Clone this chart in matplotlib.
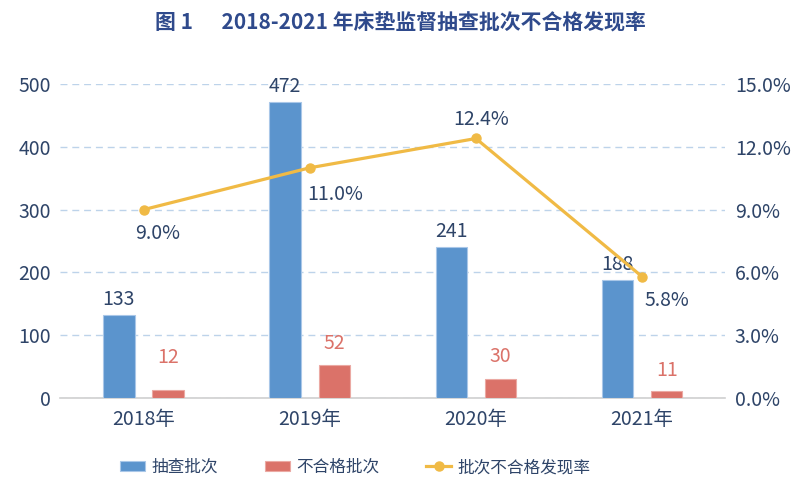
import matplotlib
matplotlib.use("Agg")
import matplotlib.pyplot as plt
import numpy as np
from matplotlib.ticker import FuncFormatter

plt.rcParams['font.family'] = ['Noto Sans CJK SC', 'DejaVu Sans']

years = ["2018年", "2019年", "2020年", "2021年"]
sampled = [133, 472, 241, 188]
failed = [12, 52, 30, 11]
rate = [9.0, 11.0, 12.4, 5.8]

blue = "#5B94CD"
red = "#DB7269"
gold = "#F0BA45"
navy = "#2E4468"
title_c = "#2F4A8C"
fs = 14

fig = plt.figure(figsize=(8, 4.86), dpi=100)
ax = fig.add_axes([0.0755, 0.181, 0.831, 0.646])
x = np.arange(len(years))
w = 0.188
off = 0.148
ax.bar(x - off, sampled, w, color=blue, edgecolor="#A9C7E8", linewidth=0.8, label="抽查批次", zorder=3)
ax.bar(x + off, failed, w, color=red, edgecolor="#EBA9A3", linewidth=0.8, label="不合格批次", zorder=3)
ax.set_xlim(-0.5, 3.5)
ax.set_ylim(0, 500)
ax.set_yticks(range(0, 501, 100))
ax.grid(axis='y', color="#BDD3EA", linestyle=(0, (5, 3.5)), linewidth=1, zorder=0)
for s in ['top', 'right', 'left']:
    ax.spines[s].set_visible(False)
ax.spines['bottom'].set_color("#D0D0D0")
ax.spines['bottom'].set_linewidth(1.2)
ax.tick_params(axis='y', length=0, labelsize=fs, colors=navy, pad=7)
ax.tick_params(axis='x', length=0, labelsize=fs, colors=navy, pad=8)
ax.set_xticks(x)
ax.set_xticklabels(years)

for xi, v in zip(x, sampled):
    ax.annotate(str(v), (xi - off, v), xytext=(0, 11), textcoords='offset points',
                ha='center', va='center', fontsize=fs, color=navy)
red_off = [24, 16, 16, 15]
for xi, v, o in zip(x, failed, red_off):
    ax.annotate(str(v), (xi + off, v), xytext=(0, o), textcoords='offset points',
                ha='center', va='center', fontsize=fs, color=red)

ax2 = ax.twinx()
ax2.plot(x, rate, color=gold, linewidth=2.3, marker='o', markersize=6.5, label="批次不合格发现率", zorder=4)
ax2.set_ylim(0, 15)
ax2.set_yticks(np.arange(0, 15.1, 3))
ax2.yaxis.set_major_formatter(FuncFormatter(lambda v, p: f"{v:.1f}%"))
for s in ['top', 'right', 'left', 'bottom']:
    ax2.spines[s].set_visible(False)
ax2.tick_params(axis='y', length=0, labelsize=fs, colors=navy, pad=7)

rate_off = [(10, -17), (18, -19), (4, 14), (18, -17)]
for xi, v, o in zip(x, rate, rate_off):
    ax2.annotate(f"{v:.1f}%", (xi, v), xytext=o, textcoords='offset points',
                 ha='center', va='center', fontsize=fs, color=navy)

fig.text(0.5, 0.953, "图 1      2018-2021 年床垫监督抽查批次不合格发现率", ha='center', va='center',
         fontsize=15, fontweight='bold', color=title_c)

h1, l1 = ax.get_legend_handles_labels()
h2, l2 = ax2.get_legend_handles_labels()
fig.legend(h1 + h2, l1 + l2, loc='center', bbox_to_anchor=(0.444, 0.038), ncol=3, frameon=False,
           fontsize=12, labelcolor=navy, handlelength=1.5, handleheight=0.6, columnspacing=2.8,
           handletextpad=0.4)

fig.savefig("out.png", dpi=100)
